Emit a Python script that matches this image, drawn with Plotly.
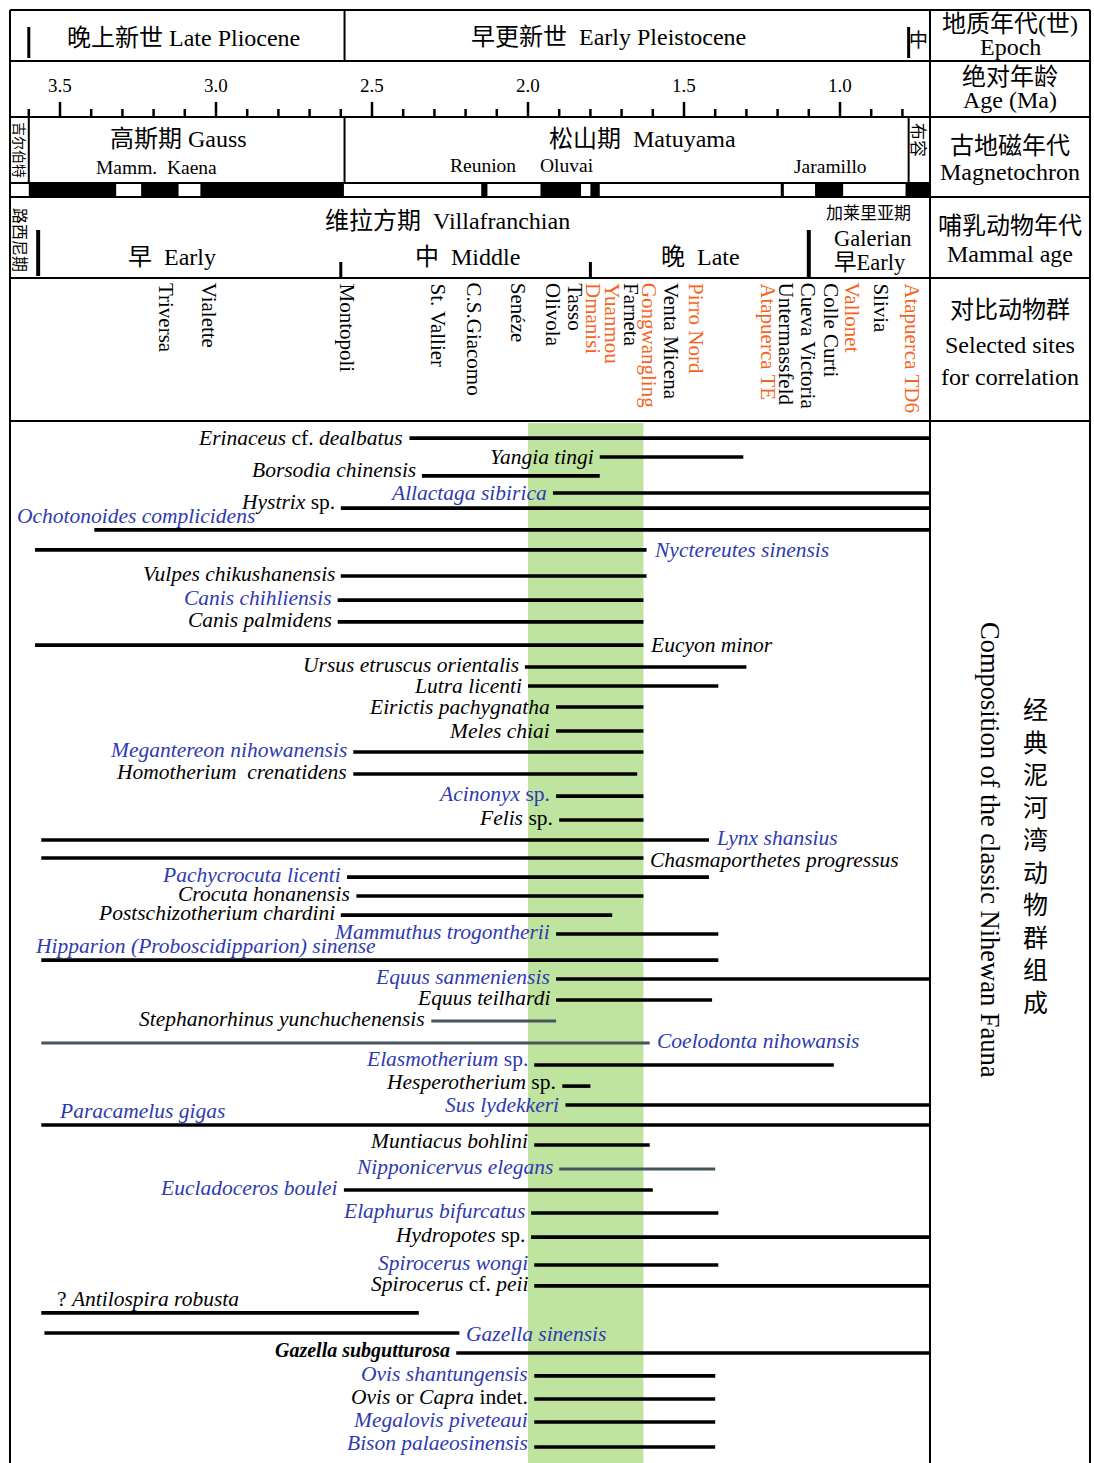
import plotly.graph_objects as go

# ------------------------------------------------------------------ data
FONT = "Liberation Serif, 'Noto Sans CJK SC', serif"
BLUE = "#2E3AB0"
ORANGE = "#F5641E"
GREEN = "#BFE49F"
GRAYLINE = "#46555C"

# age axis (Ma)
major_ages = [3.5, 3.0, 2.5, 2.0, 1.5, 1.0]
major_labels = ["3.5", "3.0", "2.5", "2.0", "1.5", "1.0"]
minor_ages = [3.6, 3.4, 3.3, 3.2, 3.1, 2.9, 2.8, 2.7, 2.6, 2.4, 2.3, 2.2, 2.1,
              1.9, 1.8, 1.7, 1.6, 1.4, 1.3, 1.2, 1.1, 0.9, 0.8]

# normal polarity intervals (black)
normal_old = [3.60, 3.24, 3.05, 2.15, 1.96, 1.80, 1.19, 1.08, 0.79]
normal_young = [3.32, 3.12, 2.59, 2.13, 1.83, 1.77, 1.18, 0.99, 0.71]

# boundaries
gilbert_gauss = 3.60
plio_pleisto = 2.588
early_middle_pleisto = 0.78
ruscinian_villa = 3.57
villa_early_middle = 2.60
villa_middle_late = 1.80
villa_galerian = 1.10

# classic Nihewan interval (green band)
band_old, band_young = 2.00, 1.63

# selected sites for correlation
site_names = ["Triversa", "Vialette", "Montopoli", "St. Vallier", "C.S.Giacomo", "Senéze",
              "Olivola", "Tasso", "Dmanisi", "Yuanmou", "Farneta", "Gongwangling",
              "Venta Micena", "Pirro Nord", "Atapuerca TE", "Untermassfeld",
              "Cueva Victoria", "Colle Curti", "Vallonet", "Slivia", "Atapuerca TD6"]
site_ages = [3.16, 3.02, 2.58, 2.29, 2.17, 2.03, 1.92, 1.85, 1.79, 1.73, 1.67, 1.61,
             1.54, 1.46, 1.23, 1.17, 1.10, 1.03, 0.96, 0.87, 0.77]
site_highlight = [0, 0, 0, 0, 0, 0, 0, 0, 1, 1, 0, 1, 0, 1, 1, 0, 0, 0, 1, 0, 1]

# species ranges
species_labels = [
    "<i>Erinaceus</i> cf. <i>dealbatus</i>",
    "<i>Yangia tingi</i>",
    "<i>Borsodia chinensis</i>",
    "<i>Allactaga sibirica</i>",
    "<i>Hystrix</i> sp.",
    "<i>Ochotonoides complicidens</i>",
    "<i>Nyctereutes sinensis</i>",
    "<i>Vulpes chikushanensis</i>",
    "<i>Canis chihliensis</i>",
    "<i>Canis palmidens</i>",
    "<i>Eucyon minor</i>",
    "<i>Ursus etruscus orientalis</i>",
    "<i>Lutra licenti</i>",
    "<i>Eirictis pachygnatha</i>",
    "<i>Meles chiai</i>",
    "<i>Megantereon nihowanensis</i>",
    "<i>Homotherium  crenatidens</i>",
    "<i>Acinonyx</i> sp.",
    "<i>Felis</i> sp.",
    "<i>Lynx shansius</i>",
    "<i>Chasmaporthetes progressus</i>",
    "<i>Pachycrocuta licenti</i>",
    "<i>Crocuta honanensis</i>",
    "<i>Postschizotherium chardini</i>",
    "<i>Mammuthus trogontherii</i>",
    "<i>Hipparion (Proboscidipparion) sinense</i>",
    "<i>Equus sanmeniensis</i>",
    "<i>Equus teilhardi</i>",
    "<i>Stephanorhinus yunchuchenensis</i>",
    "<i>Coelodonta nihowansis</i>",
    "<i>Elasmotherium</i> sp.",
    "<i>Hesperotherium</i> sp.",
    "<i>Sus lydekkeri</i>",
    "<i>Paracamelus gigas</i>",
    "<i>Muntiacus bohlini</i>",
    "<i>Nipponicervus elegans</i>",
    "<i>Eucladoceros boulei</i>",
    "<i>Elaphurus bifurcatus</i>",
    "<i>Hydropotes</i> sp.",
    "<i>Spirocerus wongi</i>",
    "<i>Spirocerus</i> cf. <i>peii</i>",
    "? <i>Antilospira robusta</i>",
    "<i>Gazella sinensis</i>",
    "<b><i>Gazella subgutturosa</i></b>",
    "<i>Ovis shantungensis</i>",
    "<i>Ovis</i> or <i>Capra</i> indet.",
    "<i>Megalovis piveteaui</i>",
    "<i>Bison palaeosinensis</i>",
]
species_first = [2.38, 1.77, 2.34, 1.92, 2.60, 3.39, 3.58, 2.60, 2.61, 2.61, 3.58, 2.01,
                 2.00, 1.91, 1.91, 2.56, 2.56, 1.91, 1.90, 3.56, 3.56, 2.58, 2.55, 2.60,
                 1.91, 3.56, 1.91, 1.91, 2.31, 3.56, 1.98, 1.89, 1.88, 3.56, 1.98, 1.90,
                 2.59, 1.99, 1.99, 1.98, 1.98, 3.56, 3.55, 2.23, 1.98, 1.98, 1.98, 1.98]
species_last = [0.71, 1.31, 1.77, 0.71, 0.71, 0.71, 1.62, 1.62, 1.63, 1.63, 1.63, 1.30,
                1.39, 1.63, 1.63, 1.63, 1.65, 1.63, 1.63, 1.42, 1.63, 1.42, 1.63, 1.73,
                1.39, 1.39, 0.71, 1.41, 1.91, 1.61, 1.02, 1.80, 0.71, 0.71, 1.61, 1.40,
                1.60, 1.39, 0.71, 1.39, 0.71, 2.35, 2.22, 0.71, 1.40, 1.40, 1.40, 1.40]
species_row = [0.76, 1.60, 2.44, 3.20, 3.87, 4.84, 5.73, 6.89, 7.96, 8.93, 9.96, 10.93,
               11.78, 12.71, 13.78, 14.71, 15.69, 16.67, 17.73, 18.62, 19.42, 20.27, 21.11,
               21.96, 22.80, 23.96, 24.80, 25.73, 26.67, 27.64, 28.62, 29.56, 30.40, 31.29,
               32.18, 33.24, 34.18, 35.20, 36.27, 37.51, 38.44, 39.64, 40.53, 41.42, 42.44,
               43.47, 44.49, 45.60]
species_group = ["k", "k", "k", "b", "k", "b", "b", "k", "b", "k", "k", "k", "k", "k", "k",
                 "b", "k", "b", "k", "b", "k", "b", "k", "k", "b", "b", "b", "k", "k", "b",
                 "b", "k", "b", "b", "k", "b", "b", "b", "k", "b", "k", "k", "b", "k", "b",
                 "k", "b", "b"]
species_label_side = ["L", "L", "L", "L", "L", "A", "R", "L", "L", "L", "R", "L", "L", "L",
                      "L", "L", "L", "L", "L", "R", "R", "L", "L", "L", "L", "A", "L", "L",
                      "L", "R", "L", "L", "L", "A", "L", "L", "L", "L", "L", "L", "L", "A",
                      "R", "L", "L", "L", "L", "L"]
species_label_age = {5: 3.644, 25: 3.587, 33: 3.51, 41: 3.516}
species_gray_line = {28, 29, 35}
# label lift above its line (pixels), where it differs from the usual
label_lift = {0: 0, 1: 0, 2: 6, 3: 0, 4: 6, 6: 0, 10: 0, 12: 0, 13: 0, 14: 0, 20: -2,
              30: 6, 31: 4, 32: 0, 34: 4, 42: -1, 47: 4}


# ------------------------------------------------------------------ layout helpers
def X(px):  # page pixel -> age (Ma)
    return 3.5 - (px - 60) / 312.0


def Y(py):  # page pixel -> row units
    return (py - 421) / 22.5


shapes = []
annotations = []


def seg(x0, y0, x1, y1, w=2, color="black"):
    shapes.append(dict(type="line", xref="x", yref="y", x0=x0, x1=x1, y0=y0, y1=y1,
                       line=dict(color=color, width=w)))


def txt(x, y, text, size=24, color="black", angle=0, xanchor="center", yanchor="middle",
        xshift=0, yshift=0):
    annotations.append(dict(x=x, y=y, xref="x", yref="y", text=text, showarrow=False,
                            textangle=angle, xanchor=xanchor, yanchor=yanchor,
                            xshift=xshift, yshift=yshift,
                            font=dict(family=FONT, size=size, color=color)))


# green band
shapes.append(dict(type="rect", xref="x", yref="y", x0=band_old, x1=band_young,
                   y0=Y(423), y1=Y(1463), fillcolor=GREEN, line=dict(width=0), layer="below"))

# polarity bar
for o, yv in zip(normal_old, normal_young):
    shapes.append(dict(type="rect", xref="x", yref="y", x0=o, x1=yv, y0=Y(183), y1=Y(197),
                       fillcolor="black", line=dict(width=0)))

# table frame
for py in [10, 61, 117, 197, 278, 421]:
    seg(X(10), Y(py), X(1090), Y(py))
seg(X(10), Y(183), X(930), Y(183))
for px in [10, 930, 1090]:
    seg(X(px), Y(10), X(px), Y(1463))

# boundaries
seg(plio_pleisto, Y(10), plio_pleisto, Y(61))
seg(plio_pleisto, Y(117), plio_pleisto, Y(183))
seg(gilbert_gauss, Y(117), gilbert_gauss, Y(183))
seg(early_middle_pleisto, Y(117), early_middle_pleisto, Y(183))
seg(gilbert_gauss, Y(27), gilbert_gauss, Y(58), w=3)
seg(early_middle_pleisto, Y(27), early_middle_pleisto, Y(58), w=3)
seg(ruscinian_villa, Y(230), ruscinian_villa, Y(276), w=4)
seg(villa_early_middle, Y(262), villa_early_middle, Y(278), w=3)
seg(villa_middle_late, Y(262), villa_middle_late, Y(278), w=3)
seg(villa_galerian, Y(230), villa_galerian, Y(278), w=4)

# ------------------------------------------------------------------ traces
fig = go.Figure()

# age ticks
tx, ty = [], []
for a in major_ages:
    tx += [a, a, None]
    ty += [Y(102), Y(117), None]
for a in minor_ages:
    tx += [a, a, None]
    ty += [Y(109), Y(117), None]
fig.add_trace(go.Scatter(x=tx, y=ty, mode="lines", line=dict(color="black", width=2.5),
                         hoverinfo="skip", showlegend=False))
for a, lab in zip(major_ages, major_labels):
    txt(a, Y(85), lab, size=19)

# species lines
for gray in (False, True):
    lx, ly = [], []
    for i in range(len(species_labels)):
        if (i in species_gray_line) != gray:
            continue
        lx += [species_first[i], species_last[i], None]
        ly += [species_row[i], species_row[i], None]
    fig.add_trace(go.Scatter(x=lx, y=ly, mode="lines",
                             line=dict(color=GRAYLINE if gray else "black",
                                       width=3 if gray else 3.6),
                             hoverinfo="skip", showlegend=False))

# species labels
for i, lab in enumerate(species_labels):
    col = BLUE if species_group[i] == "b" else "black"
    size = 20 if "<b>" in lab else 21.5
    side = species_label_side[i]
    lift = label_lift.get(i, 2)
    if side == "L":
        txt(species_first[i], species_row[i], lab, size=size, color=col,
            xanchor="right", xshift=-4, yshift=lift)
    elif side == "R":
        txt(species_last[i], species_row[i], lab, size=size, color=col,
            xanchor="left", xshift=5, yshift=lift)
    else:
        txt(species_label_age[i], species_row[i], lab, size=size, color=col,
            xanchor="left", yshift=14)

# sites
for name, a, hl in zip(site_names, site_ages, site_highlight):
    txt(a, Y(281), name, size=21, color=ORANGE if hl else "black", angle=90, yanchor="top")

# ------------------------------------------------------------------ header texts
# epoch row
txt(X(183), Y(38), "晚上新世 Late Pliocene", 24)
txt(X(608), Y(37), "早更新世  Early Pleistocene", 24)
txt(X(918), Y(40), "中", 19)
# magnetochron row
txt(X(19), Y(150), "吉尔伯特", 14, angle=90)
txt(X(178), Y(139), "高斯期 Gauss", 24)
txt(X(156), Y(167), "Mamm.  Kaena", 19.5)
txt(X(642), Y(139), "松山期  Matuyama", 24)
txt(X(483), Y(165), "Reunion", 19.5)
txt(X(567), Y(165), "Oluvai", 19.5)
txt(X(830), Y(166), "Jaramillo", 19.5)
txt(X(918), Y(140), "布容", 17, angle=90)
# mammal age row
txt(X(20), Y(240), "路西尼期", 16, angle=90)
txt(X(447), Y(221), "维拉方期  Villafranchian", 24)
txt(X(172), Y(257), "早  Early", 24)
txt(X(467), Y(257), "中  Middle", 24)
txt(X(700), Y(257), "晚  Late", 24)
txt(X(868), Y(213), "加莱里亚期", 17)
txt(X(872), Y(238), "Galerian", 22.5)
txt(X(870), Y(262), "早Early", 22.5)
# right column
for py, t in [(24, "地质年代(世)"), (47, "Epoch"), (77, "绝对年龄"), (100, "Age (Ma)"),
              (146, "古地磁年代"), (172, "Magnetochron"), (226, "哺乳动物年代"),
              (254, "Mammal age"), (310, "对比动物群"), (345, "Selected sites"),
              (377, "for correlation")]:
    txt(X(1010), Y(py), t, 24)
txt(X(990), Y(850), "Composition of the classic Nihewan Fauna", 26.5, angle=90)
txt(X(1035), Y(857), "<br>".join("经典泥河湾动物群组成"), 25)

fig.update_layout(
    width=1094, height=1463, margin=dict(l=0, r=0, t=0, b=0),
    paper_bgcolor="white", plot_bgcolor="white", showlegend=False,
    xaxis=dict(range=[X(0), X(1094)], visible=False, fixedrange=True),
    yaxis=dict(range=[Y(1463), Y(0)], visible=False, fixedrange=True),
    shapes=shapes, annotations=annotations,
)
fig.write_html("out.html", config={"displayModeBar": False},
               post_script="document.body.style.margin='0';")
